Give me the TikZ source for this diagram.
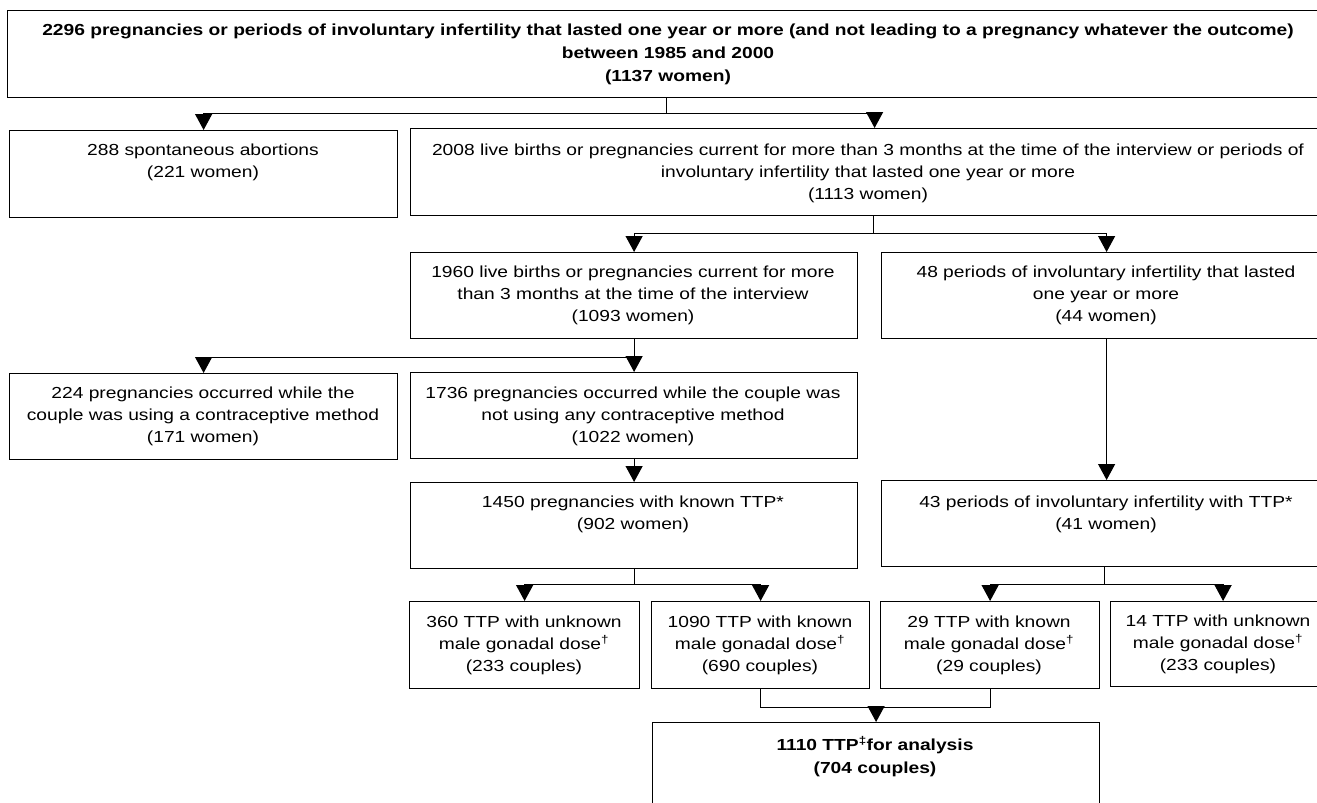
\documentclass[tikz,border=0pt]{standalone}
\usepackage{fontspec}
\setmainfont{Liberation Sans}[FakeStretch=1.2]
\usetikzlibrary{arrows.meta}

\begin{document}
\begin{tikzpicture}[x=1pt,y=-1pt]
				\tikzstyle{box}=[draw,line width=1.2pt,inner sep=0pt,anchor=north west]
				\tikzstyle{txt}=[align=center,inner sep=0pt,anchor=north,font=\fontsize{16}{22}\selectfont]
				\tikzstyle{bold}=[txt,font=\fontsize{16}{23}\selectfont\bfseries]
				\tikzstyle{line}=[line width=1.2pt]
				\tikzstyle{arr}=[line,-{Triangle[width=17pt,length=16pt]}]
				\useasboundingbox (0,0) rectangle (1317,803);
				\clip (0,0) rectangle (1317,803);
				
				\node[box,minimum width=1330,minimum height=87] (top) at (7,10) {};
				\node[bold] (ttop) at (668,24) {2296 pregnancies or periods of involuntary infertility that lasted one year or more (and not leading to a pregnancy whatever the outcome)\\between 1985 and 2000\\(1137 women)};
				
				\node[box,minimum width=388,minimum height=87] (sab) at (9,130) {};
				\node[txt] (tsab) at (203,144) {288 spontaneous abortions\\(221 women)};
				\node[box,minimum width=920,minimum height=87] (lb) at (410,128) {};
				\node[txt] (tlb) at (868,144) {2008 live births or pregnancies current for more than 3 months at the time of the interview or periods of\\involuntary infertility that lasted one year or more\\(1113 women)};
				
				\node[box,minimum width=447,minimum height=86] (b1960) at (410,252) {};
				\node[txt] (t1960) at (633,266) {1960 live births or pregnancies current for more\\than 3 months at the time of the interview\\(1093 women)};
				\node[box,minimum width=450,minimum height=86] (b48) at (881,252) {};
				\node[txt] (t48) at (1106,266) {48 periods of involuntary infertility that lasted\\one year or more\\(44 women)};
				
				\node[box,minimum width=388,minimum height=86] (b224) at (9,373) {};
				\node[txt] (t224) at (203,387) {224 pregnancies occurred while the\\couple was using a contraceptive method\\(171 women)};
				\node[box,minimum width=447,minimum height=86] (b1736) at (410,372) {};
				\node[txt] (t1736) at (633,387) {1736 pregnancies occurred while the couple was\\not using any contraceptive method\\(1022 women)};
				
				\node[box,minimum width=447,minimum height=86] (b1450) at (410,482) {};
				\node[txt] (t1450) at (633,496) {1450 pregnancies with known TTP*\\(902 women)};
				\node[box,minimum width=450,minimum height=86] (b43) at (881,480) {};
				\node[txt] (t43) at (1106,496) {43 periods of involuntary infertility with TTP*\\(41 women)};
				
				\node[box,minimum width=230,minimum height=87] (b360) at (409,601) {};
				\node[txt] (t360) at (524,616) {360 TTP with unknown\\male gonadal dose\textsuperscript{†}\\(233 couples)};
				\node[box,minimum width=218,minimum height=87] (b1090) at (651,601) {};
				\node[txt] (t1090) at (760,616) {1090 TTP with known\\male gonadal dose\textsuperscript{†}\\(690 couples)};
				\node[box,minimum width=219,minimum height=87] (b29) at (880,601) {};
				\node[txt] (t29) at (989,616) {29 TTP with known\\male gonadal dose\textsuperscript{†}\\(29 couples)};
				\node[box,minimum width=215,minimum height=85] (b14) at (1110,601) {};
				\node[txt] (t14) at (1218,615) {14 TTP with unknown\\male gonadal dose\textsuperscript{†}\\(233 couples)};
				
				\node[box,minimum width=447,minimum height=100] (b1110) at (652,722) {};
				\node[bold] (t1110) at (875,736) {1110 TTP\textsuperscript{‡}for analysis\\(704 couples)};
				
				\draw[line] ([xshift=-6]top.south) -- ++(0,15) coordinate (j1);
				\draw[arr] (j1) -| (sab.north);
				\draw[arr] (j1) -| ([xshift=4]lb.north);
				\draw[line] ([xshift=3]lb.south) -- ++(0,17) coordinate (j2);
				\draw[arr] (j2) -| (b1960.north);
				\draw[arr] (j2) -| (b48.north);
				\draw[line] (b1960.south) -- ++(0,18) coordinate (j3);
				\draw[arr] (j3) -| (b224.north);
				\draw[arr] (j3) -- (b1736.north);
				\draw[arr] (b1736.south) -- (b1450.north);
				\draw[arr] (b48.south) -- (b43.north);
				\draw[line] (b1450.south) -- ++(0,15) coordinate (j4);
				\draw[arr] (j4) -| (b360.north);
				\draw[arr] (j4) -| (b1090.north);
				\draw[line] ([xshift=-2]b43.south) -- ++(0,17) coordinate (j5);
				\draw[arr] (j5) -| (b29.north);
				\draw[arr] (j5) -| ([xshift=5]b14.north);
				\draw[line] (b1090.south) -- ++(0,18) coordinate (j6) -| (b29.south);
				\draw[arr] (j6 -| b1110.north) -- (b1110.north);
				
\end{tikzpicture}
\end{document}
